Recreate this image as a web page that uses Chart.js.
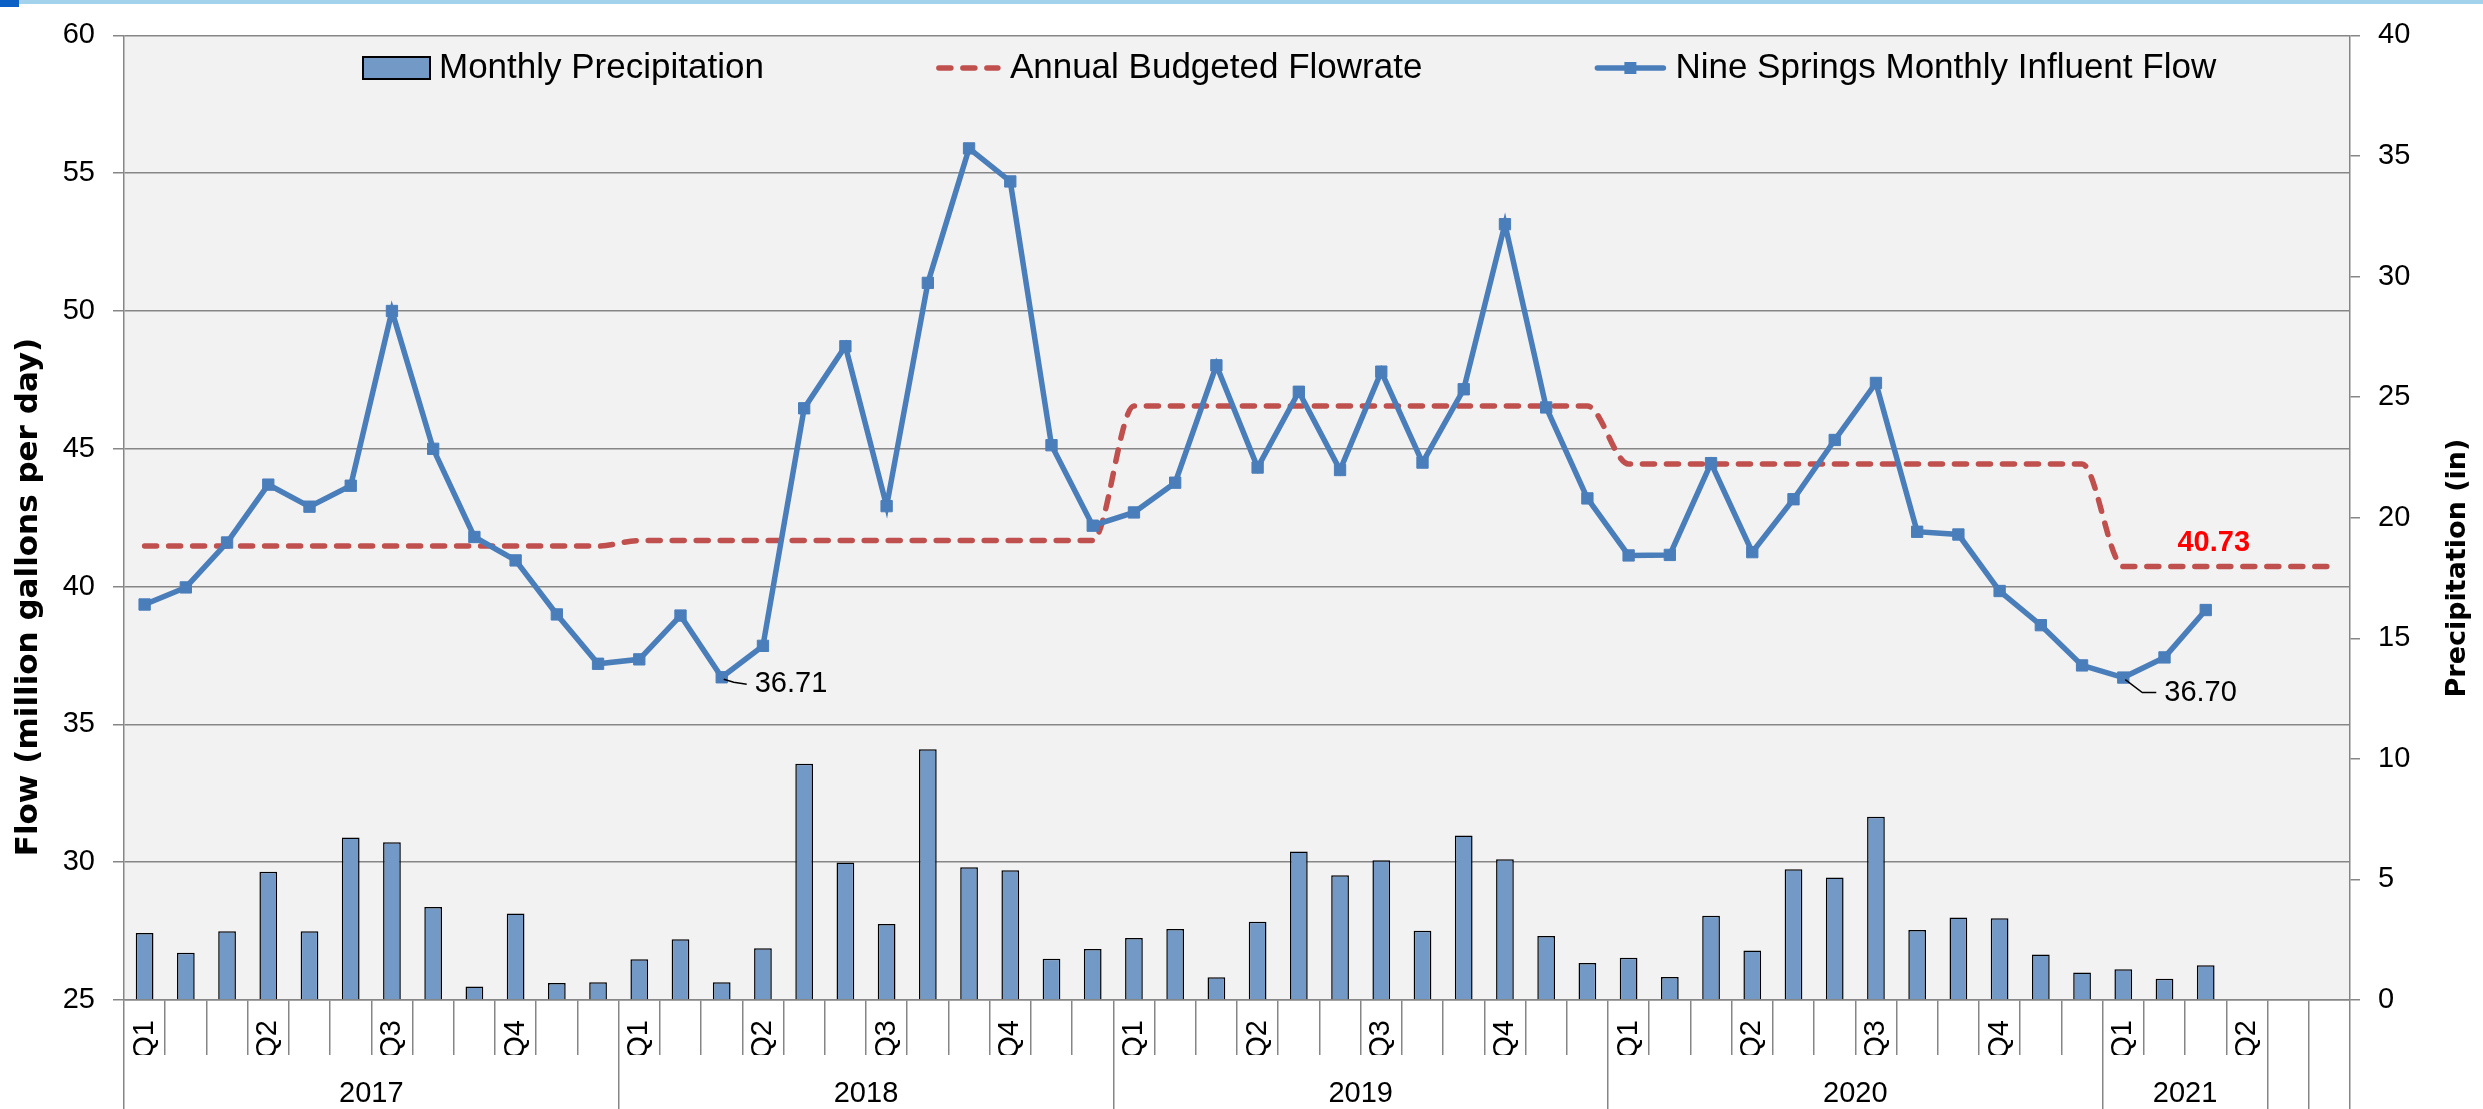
<!DOCTYPE html>
<html>
<head>
<meta charset="utf-8">
<title>Nine Springs Influent Flow</title>
<script src="https://cdn.jsdelivr.net/npm/chart.js@4.4.1/dist/chart.umd.min.js"></script>
<style>
  html, body { margin: 0; padding: 0; background: #fff; }
  .wrap { position: relative; width: 2483px; height: 1109px; overflow: hidden; }
  .wrap canvas { position: absolute; left: 0; top: 0; }
  .band { position: absolute; left: 0; top: 0; width: 2483px; height: 4px; background: #a3d3ec; }
  .mark { position: absolute; left: 0; top: 0; width: 19px; height: 7px; background: #0b5fc5; }
</style>
</head>
<body>
<div class="wrap">
  <canvas id="myChart" width="2483" height="1109"></canvas>
  <div class="band"></div>
  <div class="mark"></div>
</div>
<script>
// one category per month, Jan 2017 .. Jun 2021
const quarterLabels = [
  'Q1', '', '', 'Q2', '', '', 'Q3', '', '', 'Q4', '', '',
  'Q1', '', '', 'Q2', '', '', 'Q3', '', '', 'Q4', '', '',
  'Q1', '', '', 'Q2', '', '', 'Q3', '', '', 'Q4', '', '',
  'Q1', '', '', 'Q2', '', '', 'Q3', '', '', 'Q4', '', '',
  'Q1', '', '', 'Q2', '', ''
];
// second row of the category axis: year groups and how many months each covers
const yearLabels = ['2017', '2018', '2019', '2020', '2021', '', ''];
const yearSpans = [12, 12, 12, 12, 4, 1, 1];

// inches
const precipitation = [
  2.78, 1.96, 2.85, 5.32, 2.85, 6.74, 6.54, 3.86, 0.56, 3.59, 0.70, 0.74,
  1.69, 2.52, 0.74, 2.15, 9.80, 5.70, 3.15, 10.40, 5.50, 5.38, 1.71, 2.11,
  2.57, 2.94, 0.94, 3.24, 6.16, 5.17, 5.79, 2.87, 6.82, 5.84, 2.65, 1.53,
  1.75, 0.95, 3.49, 2.05, 5.42, 5.08, 7.60, 2.90, 3.42, 3.39, 1.89, 1.14,
  1.28, 0.88, 1.44, null, null, null
];
// million gallons per day
const budgetFlow = [
  41.47, 41.47, 41.47, 41.47, 41.47, 41.47, 41.47, 41.47, 41.47, 41.47, 41.47, 41.47,
  41.67, 41.67, 41.67, 41.67, 41.67, 41.67, 41.67, 41.67, 41.67, 41.67, 41.67, 41.67,
  46.55, 46.55, 46.55, 46.55, 46.55, 46.55, 46.55, 46.55, 46.55, 46.55, 46.55, 46.55,
  44.45, 44.45, 44.45, 44.45, 44.45, 44.45, 44.45, 44.45, 44.45, 44.45, 44.45, 44.45,
  40.73, 40.73, 40.73, 40.73, 40.73, 40.73
];
const influentFlow = [
  39.35, 39.97, 41.60, 43.70, 42.90, 43.66, 50.00, 45.00, 41.80, 40.95, 38.99, 37.20,
  37.36, 38.95, 36.71, 37.85, 46.47, 48.72, 42.92, 51.02, 55.90, 54.70, 45.13, 42.21,
  42.69, 43.77, 48.03, 44.32, 47.07, 44.23, 47.80, 44.50, 47.16, 53.15, 46.50, 43.20,
  41.13, 41.15, 44.48, 41.25, 43.17, 45.32, 47.39, 41.99, 41.89, 39.84, 38.60, 37.14,
  36.70, 37.43, 39.15, null, null, null
];

const FONT = '"Liberation Sans", Arial, sans-serif';
const GRID = '#868686';

// year row: separators at group edges, label in the middle of each group
let yearBounds = [0];
let yearTicks = [0];
let yearAt = {};
yearSpans.forEach((n, i) => {
  const start = yearBounds[yearBounds.length - 1];
  const mid = start + n / 2;
  if (yearLabels[i]) {
    yearTicks.push(mid);
    yearAt[mid] = yearLabels[i];
  }
  yearBounds.push(start + n);
  yearTicks.push(start + n);
});

const plotBackground = {
  id: 'plotBackground',
  beforeDraw(chart) {
    const { ctx, chartArea: a } = chart;
    ctx.save();
    ctx.fillStyle = '#f2f2f2';
    ctx.fillRect(a.left, a.top, a.right - a.left, a.bottom - a.top);
    ctx.restore();
  }
};

// value callouts for the two low points and the 2021 budget
const callouts = {
  id: 'callouts',
  afterDatasetsDraw(chart) {
    const ctx = chart.ctx;
    const flowMeta = chart.getDatasetMeta(2);
    const budgetMeta = chart.getDatasetMeta(1);
    ctx.save();
    ctx.font = '29px ' + FONT;
    ctx.textBaseline = 'middle';
    ctx.fillStyle = '#000';
    ctx.strokeStyle = '#000';
    ctx.lineWidth = 1.5;
    [[14, 33, 7, 12, 5], [48, 41, 15, 19, 15]].forEach(([i, tx, ty, lx, ly]) => {
      const p = flowMeta.data[i];
      ctx.beginPath();
      ctx.moveTo(p.x + 2, p.y + 2);
      ctx.lineTo(p.x + lx, p.y + ly);
      ctx.lineTo(p.x + tx - 8, p.y + ty);
      ctx.stroke();
      ctx.fillText(influentFlow[i].toFixed(2), p.x + tx, p.y + ty);
    });
    const b = budgetMeta.data[50];
    ctx.font = 'bold 29px ' + FONT;
    ctx.fillStyle = '#ff0000';
    ctx.textAlign = 'center';
    ctx.fillText(budgetFlow[50].toFixed(2), b.x + 8, b.y - 23);
    ctx.restore();
  }
};

// legend sits inside the plot area, like the original
const legendRow = {
  id: 'legendRow',
  afterDraw(chart) {
    const ctx = chart.ctx;
    const y = 68;
    let x = 363;
    ctx.save();
    ctx.font = '35px ' + FONT;
    ctx.textBaseline = 'middle';
    chart.data.datasets.forEach((ds, k) => {
      let w;
      if (k === 0) {
        w = 67;
        ctx.fillStyle = ds.backgroundColor;
        ctx.fillRect(x, y - 11, w, 22);
        ctx.strokeStyle = '#000';
        ctx.lineWidth = 2;
        ctx.strokeRect(x, y - 11, w, 22);
      } else {
        w = k === 1 ? 65 : 72;
        ctx.strokeStyle = ds.borderColor;
        ctx.lineWidth = ds.borderWidth;
        ctx.lineCap = 'round';
        ctx.setLineDash(ds.borderDash || []);
        ctx.beginPath();
        ctx.moveTo(x + 3, y);
        ctx.lineTo(x + w - 3, y);
        ctx.stroke();
        ctx.setLineDash([]);
        if (k === 2) {
          ctx.fillStyle = ds.borderColor;
          ctx.fillRect(x + w / 2 - 6, y - 6, 12, 12);
        }
      }
      x += w + 9;
      ctx.fillStyle = '#000';
      ctx.fillText(ds.label, x, y);
      x += ctx.measureText(ds.label).width + 172;
    });
    ctx.restore();
  }
};

const axisTitles = {
  id: 'axisTitles',
  afterDraw(chart) {
    const ctx = chart.ctx;
    ctx.save();
    ctx.fillStyle = '#000';
    ctx.textAlign = 'center';
    ctx.textBaseline = 'middle';
    ctx.translate(29, 597);
    ctx.rotate(-Math.PI / 2);
    ctx.font = 'bold 31px "DejaVu Sans", Verdana, sans-serif';
    ctx.fillText('Flow (million gallons per day)', 0, 0);
    ctx.restore();
    ctx.save();
    ctx.fillStyle = '#000';
    ctx.textAlign = 'center';
    ctx.textBaseline = 'middle';
    ctx.translate(2458, 568);
    ctx.rotate(-Math.PI / 2);
    ctx.font = 'bold 27px "DejaVu Sans", Verdana, sans-serif';
    ctx.fillText('Precipitation (in)', 0, 0);
    ctx.restore();
  }
};

const tickFont = { family: FONT, size: 29 };

new Chart(document.getElementById('myChart'), {
  data: {
    labels: quarterLabels,
    datasets: [
      {
        type: 'bar',
        label: 'Monthly Precipitation',
        data: precipitation,
        yAxisID: 'y1',
        backgroundColor: '#7399c6',
        borderColor: '#000',
        borderWidth: 1.5,
        borderSkipped: 'bottom',
        categoryPercentage: 1,
        barPercentage: 0.43,
        order: 3
      },
      {
        type: 'line',
        label: 'Annual Budgeted Flowrate',
        data: budgetFlow,
        yAxisID: 'y',
        borderColor: '#c0504d',
        borderWidth: 5.5,
        borderDash: [12, 12],
        borderCapStyle: 'round',
        cubicInterpolationMode: 'monotone',
        pointRadius: 0,
        fill: false,
        order: 2
      },
      {
        type: 'line',
        label: 'Nine Springs Monthly Influent Flow',
        data: influentFlow,
        yAxisID: 'y',
        borderColor: '#4a7ebb',
        borderWidth: 5.5,
        tension: 0,
        pointStyle: 'rect',
        pointRadius: 8,
        pointBackgroundColor: '#4a7ebb',
        pointBorderColor: '#4a7ebb',
        pointBorderWidth: 1,
        fill: false,
        order: 1
      }
    ]
  },
  options: {
    responsive: false,
    animation: false,
    events: [],
    layout: { padding: { top: 23, left: 0, right: 0, bottom: 0 } },
    plugins: {
      legend: { display: false },
      tooltip: { enabled: false }
    },
    scales: {
      x: {
        type: 'category',
        position: 'bottom',
        weight: 0,
        offset: true,
        grid: { offset: true, drawOnChartArea: false, color: GRID, lineWidth: 1.5, tickLength: 55 },
        border: { color: GRID, width: 1.5 },
        ticks: { autoSkip: false, minRotation: 90, maxRotation: 90, padding: -35, color: '#000', font: tickFont },
        afterFit: s => { s.height = 55; }
      },
      x2: {
        type: 'linear',
        position: 'bottom',
        weight: 1,
        min: 0,
        max: 54,
        grid: {
          drawOnChartArea: false,
          tickLength: 54,
          lineWidth: 1.5,
          color: c => yearBounds.includes(c.tick.value) ? GRID : 'rgba(0,0,0,0)'
        },
        border: { display: false },
        ticks: {
          autoSkip: false,
          maxRotation: 0,
          padding: -32,
          color: '#000',
          font: tickFont,
          callback: v => yearAt[v] || ''
        },
        afterBuildTicks: s => { s.ticks = yearTicks.map(v => ({ value: v })); },
        afterFit: s => { s.height = 54; }
      },
      y: {
        position: 'left',
        min: 25,
        max: 60,
        ticks: { stepSize: 5, padding: 18, color: '#000', font: tickFont },
        grid: { color: GRID, lineWidth: 1.5, tickLength: 11 },
        border: { color: GRID, width: 1.5 },
        afterFit: s => { s.width = 124; }
      },
      y1: {
        position: 'right',
        min: 0,
        max: 40,
        ticks: { stepSize: 5, padding: 18, color: '#000', font: tickFont },
        grid: { drawOnChartArea: false, color: GRID, lineWidth: 1.5, tickLength: 10 },
        border: { color: GRID, width: 1.5 },
        afterFit: s => { s.width = 133; }
      }
    }
  },
  plugins: [plotBackground, callouts, legendRow, axisTitles]
});
</script>
</body>
</html>
